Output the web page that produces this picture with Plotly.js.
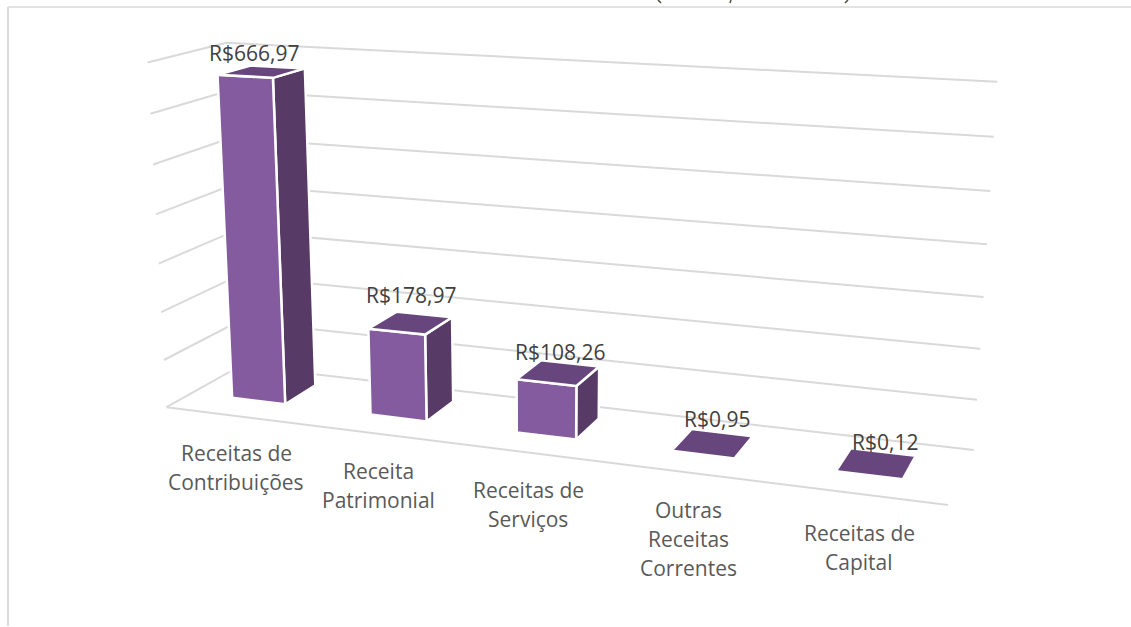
<!DOCTYPE html>
<html><head><meta charset="utf-8">
<script src="https://cdn.plot.ly/plotly-3.0.1.min.js"></script>
<style>html,body{margin:0;padding:0;background:#fff}#c{width:1131px;height:627px}</style></head>
<body><div id="c"></div>
<script>
var categories=[["Receitas de","Contribuições"],["Receita","Patrimonial"],["Receitas de","Serviços"],["Outras","Receitas","Correntes"],["Receitas de","Capital"]];
var values=[666.97,178.97,108.26,0.95,0.12];
var valueLabels=["R$666,97","R$178,97","R$108,26","R$0,95","R$0,12"];
var axisTicks=[0,100,200,300,400,500,600,700];
var W=1131,H=627,vMax=700;
// camera calibration: (category frac, value frac, depth frac) -> pixel
var calib=[[0,0,0,168,405],[1,0,0,948,507],[0,1,0,146,63],[0,0,1,239,368],[0,1,1,228,42],[1,1,1,997,82],[1,0,1,974,448]];
function fit(pts){var A=[],b=[];pts.forEach(function(p){var X=p[0],Y=p[1],Z=p[2],u=p[3],v=p[4];
 A.push([X,Y,Z,1,0,0,0,0,-u*X,-u*Y,-u*Z]);b.push(u);A.push([0,0,0,0,X,Y,Z,1,-v*X,-v*Y,-v*Z]);b.push(v);});
 var n=11,N=[];for(var i=0;i<n;i++){N.push([]);for(var j=0;j<=n;j++){var s=0;for(var k=0;k<A.length;k++)s+=A[k][i]*(j<n?A[k][j]:b[k]);N[i].push(s);}}
 for(i=0;i<n;i++){var m=i;for(k=i+1;k<n;k++)if(Math.abs(N[k][i])>Math.abs(N[m][i]))m=k;var t=N[i];N[i]=N[m];N[m]=t;
  for(k=0;k<n;k++)if(k!==i){var f=N[k][i]/N[i][i];for(j=i;j<=n;j++)N[k][j]-=f*N[i][j];}}
 return N.map(function(r,i){return r[n]/r[i];});}
var M=fit(calib);
function P(c,val,d){var y=val/vMax,w=M[8]*c+M[9]*y+M[10]*d+1;return [(M[0]*c+M[1]*y+M[2]*d+M[3])/w,(M[4]*c+M[5]*y+M[6]*d+M[7])/w];}
var traces=[];
function poly(pts,opt){var xs=pts.map(function(p){return p[0];}),ys=pts.map(function(p){return p[1];});
 traces.push(Object.assign({type:'scatter',mode:'lines',x:xs,y:ys,hoverinfo:'skip',showlegend:false},opt));}
var gridStyle={line:{color:'#d9d9d9',width:2}};
axisTicks.forEach(function(t){poly([P(0,t,0),P(0,t,1),P(1,t,1)],gridStyle);});
poly([P(0,0,0),P(1,0,0)],gridStyle);
var halfW=0.039,cShift=-0.001,d0=0.33,d1=0.77;
var FRONT='#855b9f',SIDE='#573b66',TOP='#67457d';
var labelDx=[-7.5,0,1.5,4,8.5],labelDy=[-4.5,4.5,-2,1.5,-2];
function face(pts,col){pts=pts.concat([pts[0]]);poly(pts,{fill:'toself',fillcolor:col,line:{color:'#ffffff',width:2.5}});}
var anns=[];
values.forEach(function(v,i){var c=(i+0.5)/5+cShift,a=c-halfW,b=c+halfW;
 face([P(b,0,d0),P(b,0,d1),P(b,v,d1),P(b,v,d0)],SIDE);
 face([P(a,0,d0),P(b,0,d0),P(b,v,d0),P(a,v,d0)],FRONT);
 face([P(a,v,d0),P(b,v,d0),P(b,v,d1),P(a,v,d1)],TOP);
 var q=P(c,v,(d0+d1)/2);
 anns.push({x:q[0],y:q[1],xref:'x',yref:'y',text:valueLabels[i],showarrow:false,xshift:labelDx[i],yshift:23+labelDy[i],font:{family:'Open Sans',size:21,color:'#404040'}});
});
var catCenters=[236,378,528,688,859],catTops=[453,471,490,510,533],lineGap=29;
categories.forEach(function(lines,i){lines.forEach(function(s,j){
 anns.push({x:catCenters[i],y:catTops[i]+j*lineGap,xref:'x',yref:'y',text:s,showarrow:false,font:{family:'Open Sans',size:21,color:'#595959'}});});});
function seg(x0,y0,x1,y1,col,w){return {type:'line',xref:'x',yref:'y',x0:x0,x1:x1,y0:y0,y1:y1,line:{color:col,width:w}};}
var tipColor='#4f4a35';
Plotly.newPlot('c',traces,{width:W,height:H,margin:{l:0,r:0,t:0,b:0},paper_bgcolor:'#fff',plot_bgcolor:'#fff',showlegend:false,
 xaxis:{range:[0,W],visible:false,fixedrange:true},yaxis:{range:[H,0],visible:false,fixedrange:true},annotations:anns,
 shapes:[seg(8,7,W,7,'#d9d9d9',1.5),seg(8,7,8,626,'#d9d9d9',2),
  seg(658,0,661,3,tipColor,1.5),seg(731,0,730,3,tipColor,1.5),seg(848,0,845,3,tipColor,1.5)]},{staticPlot:true});
</script></body></html>
